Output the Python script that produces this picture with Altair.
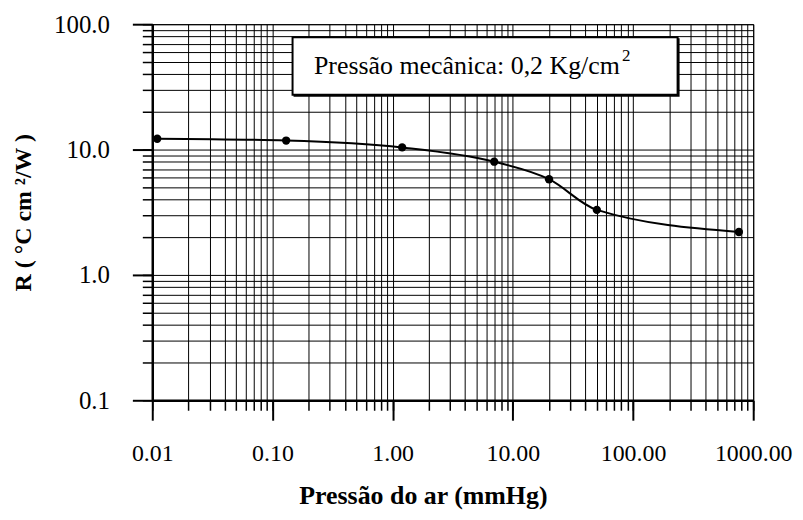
import altair as alt
import pandas as pd

# Data
pressure = [0.011, 0.13, 1.2, 7.0, 20.0, 50.0, 760.0]
resistance = [12.2, 11.8, 10.4, 8.0, 5.8, 3.3, 2.2]

x_major = [0.01, 0.1, 1, 10, 100, 1000]
y_major = [0.1, 1, 10, 100]
x_decades = [0.01, 0.1, 1, 10, 100]
y_decades = [0.1, 1, 10]
multipliers = [1, 2, 3, 4, 5, 6, 7, 8, 9]
x_minor = [m * d for d in x_decades for m in multipliers] + [1000]
y_minor = [m * d for d in y_decades for m in multipliers] + [100]

legend_text = "Pressão mecânica: 0,2 Kg/cm"
legend_sup = "2"
x_title = "Pressão do ar (mmHg)"
y_title = "R ( °C cm ²/W )"

FONT = "Liberation Serif"

df = pd.DataFrame({"p": pressure, "R": resistance})
one = pd.DataFrame({"k": [0]})

xscale = alt.Scale(type="log", domain=[0.01, 1000], nice=False)
yscale = alt.Scale(type="log", domain=[0.1, 100], nice=False)

base = alt.Chart(df)

minor = base.mark_point(opacity=0).encode(
    x=alt.X("p:Q", scale=xscale, axis=alt.Axis(
        values=x_minor, orient="bottom", grid=True, gridColor="black",
        gridWidth=1, gridOpacity=1, ticks=True, tickSize=10, tickWidth=1.5,
        tickColor="black", labels=False, domain=False, title=None)),
    y=alt.Y("R:Q", scale=yscale, axis=alt.Axis(
        values=y_minor, orient="left", grid=True, gridColor="black",
        gridWidth=1, gridOpacity=1, ticks=True, tickSize=10, tickWidth=1.5,
        tickColor="black", labels=False, domain=False, title=None)),
)

line = base.mark_line(interpolate="monotone", color="black", strokeWidth=2).encode(
    x=alt.X("p:Q", scale=xscale, axis=alt.Axis(
        values=x_major, orient="bottom", grid=False, tickSize=20, tickWidth=2,
        tickColor="black", domainColor="black", domainWidth=2.5,
        labelFont=FONT, labelFontSize=24, labelColor="black", format=".2f",
        labelPadding=22, labelFlush=False, labelOverlap=False,
        title=x_title, titleFont=FONT, titleFontSize=26, titleFontWeight="bold",
        titleColor="black", titleX=272, titleY=96, titleAlign="center",
        titleBaseline="middle")),
    y=alt.Y("R:Q", scale=yscale, axis=alt.Axis(
        values=y_major, orient="left", grid=False, tickSize=20, tickWidth=2,
        tickColor="black", domainColor="black", domainWidth=2.5,
        labelFont=FONT, labelFontSize=25, labelColor="black", format=".1f",
        labelPadding=23, labelFlush=False, labelOverlap=False,
        title=y_title, titleFont=FONT, titleFontSize=24, titleFontWeight="bold",
        titleColor="black", titleX=-129, titleY=189, titleAngle=270,
        titleAlign="center", titleBaseline="middle")),
)

points = base.mark_circle(size=70, color="black", opacity=1).encode(
    x=alt.X("p:Q", scale=xscale, axis=None),
    y=alt.Y("R:Q", scale=yscale, axis=None),
)

shadow = alt.Chart(one).mark_rect(fill="black").encode(
    x=alt.value(142), x2=alt.value(530), y=alt.value(14), y2=alt.value(73))
box = alt.Chart(one).mark_rect(fill="white", stroke="black", strokeWidth=2).encode(
    x=alt.value(141), x2=alt.value(528), y=alt.value(13), y2=alt.value(71))
txt = alt.Chart(one).mark_text(
    text=legend_text, align="right", baseline="alphabetic", font=FONT,
    fontSize=26, color="black").encode(x=alt.value(470), y=alt.value(50))
sup = alt.Chart(one).mark_text(
    text=legend_sup, align="left", baseline="alphabetic", font=FONT,
    fontSize=17, color="black").encode(x=alt.value(472), y=alt.value(37))

chart = alt.layer(minor, line, points, shadow, box, txt, sup).resolve_axis(
    x="independent", y="independent"
).properties(
    width=604, height=378,
    autosize=alt.AutoSizeParams(type="none"),
    padding={"left": 145, "top": 15, "right": 42, "bottom": 110},
    background="white",
).configure_view(stroke="black", strokeWidth=1)

chart.save("out.html", embed_options={"renderer": "svg", "actions": False})
